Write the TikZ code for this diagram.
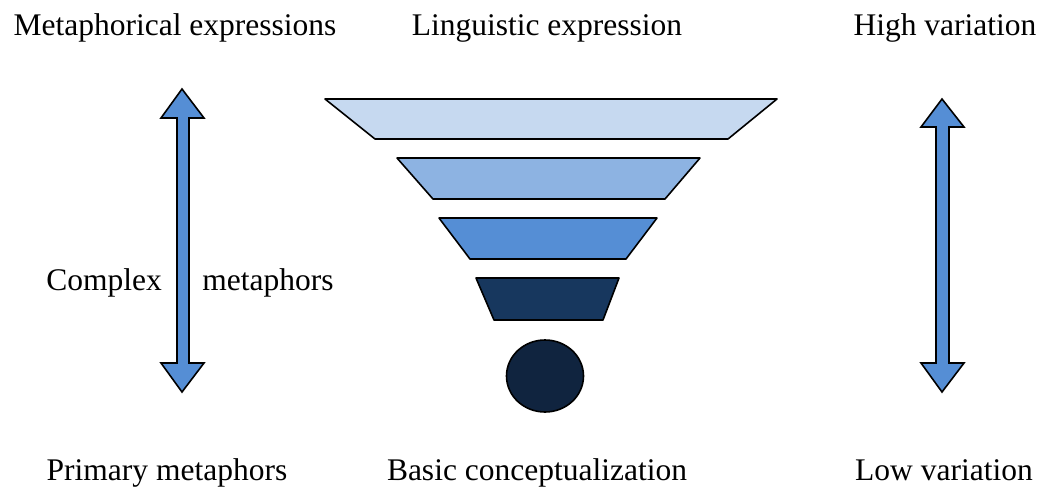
\documentclass[tikz,border=0pt]{standalone}
\usepackage{fontspec}
\setmainfont{Liberation Serif}
\usetikzlibrary{shapes.geometric}
\definecolor{lv1}{HTML}{C6D9F0}
\definecolor{lv2}{HTML}{8DB3E2}
\definecolor{lv3}{HTML}{558ED5}
\definecolor{lv4}{HTML}{17375E}
\definecolor{lv5}{HTML}{10243F}
\definecolor{arr}{HTML}{558ED5}
\begin{document}
\begin{tikzpicture}[x=1pt,y=-1pt,
  lab/.style={font=\fontsize{31.5}{36}\selectfont, inner sep=0pt, anchor=base},
  layer/.style={draw=black, line width=1.6pt, line join=round},
  dblarrow/.style={draw=black, fill=arr, line width=1.6pt, line join=miter}]
\useasboundingbox (0,0) rectangle (1042,490);
% labels
\node[lab] (me) at (175,35) {Metaphorical expressions};
\node[lab] (le) at (547,35) {Linguistic expression};
\node[lab] (hv) at (945,35) {High variation};
\node[lab] (cx) at (104,290) {Complex};
\node[lab] (mt) at (268,290) {metaphors};
\node[lab] (pm) at (167,480) {Primary metaphors};
\node[lab] (bc) at (537,480) {Basic conceptualization};
\node[lab] (lv) at (944,480) {Low variation};
% funnel layers
\path[layer, fill=lv1] (325,99) -- (777,99) -- (728,139) -- (375,139) -- cycle;
\path[layer, fill=lv2] (397,158) -- (700,158) -- (665,199) -- (433,199) -- cycle;
\path[layer, fill=lv3] (439,218) -- (657,218) -- (626,259) -- (470,259) -- cycle;
\path[layer, fill=lv4] (476,278) -- (619,278) -- (603,320) -- (494,320) -- cycle;
\node[draw=black, fill=lv5, line width=1.6pt, ellipse, minimum width=77pt, minimum height=72pt, inner sep=0pt] (dot) at (545,376) {};
% left double arrow
\path[dblarrow] (182,89) -- (204,118) -- (189,118) -- (189,363) -- (204,363) -- (182,392)
  -- (161,363) -- (177,363) -- (177,118) -- (161,118) -- cycle;
% right double arrow
\path[dblarrow] (942,99) -- (964,127) -- (949,127) -- (949,363) -- (964,363) -- (942,392)
  -- (921,363) -- (936,363) -- (936,127) -- (921,127) -- cycle;
\end{tikzpicture}
\end{document}
